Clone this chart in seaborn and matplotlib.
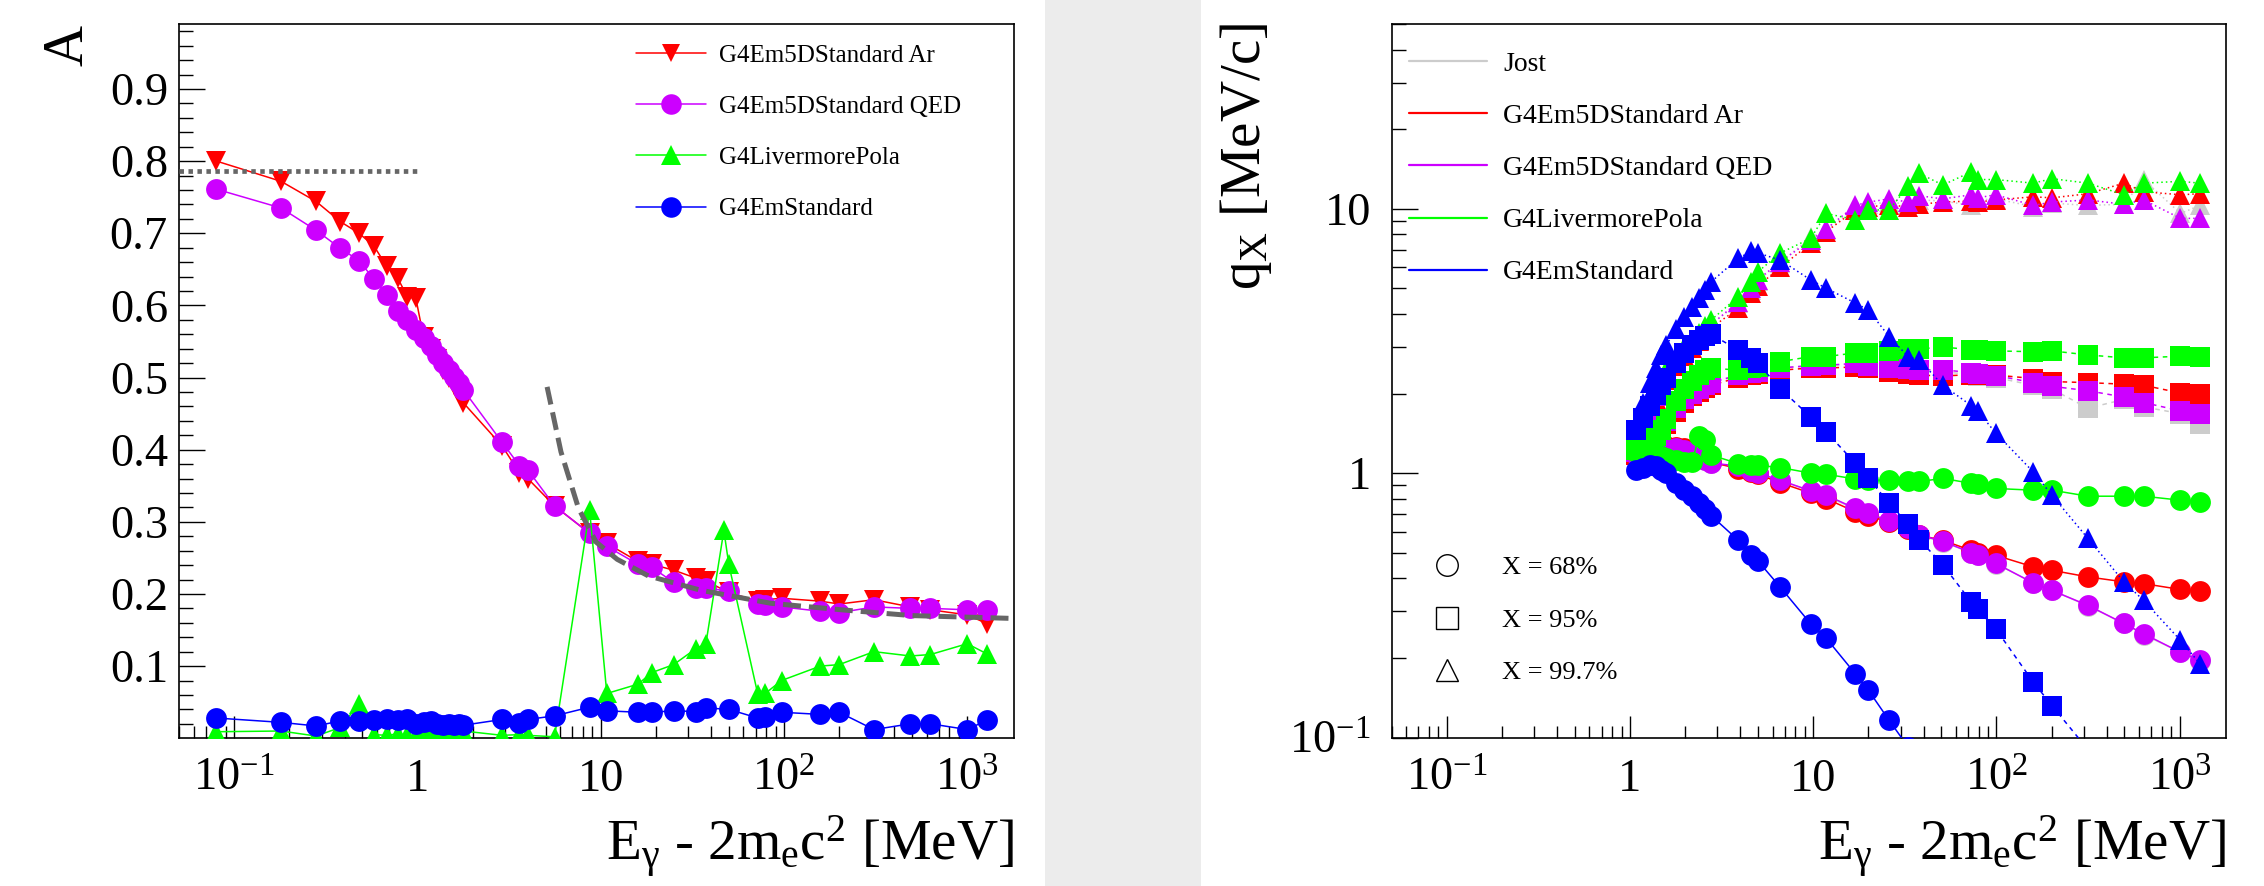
import numpy as np
import pandas as pd
import matplotlib
matplotlib.use("Agg")
import matplotlib.pyplot as plt
import seaborn as sns
from matplotlib.lines import Line2D
from matplotlib.patches import Rectangle
from matplotlib.ticker import FixedLocator, NullFormatter, LogLocator, MultipleLocator

nan = np.nan

# ---------------- data: left panel (asymmetry A) ----------------
E_left = [0.08, 0.18, 0.28, 0.38, 0.48, 0.58, 0.68, 0.78, 0.88, 0.98,
          1.08, 1.18, 1.28, 1.38, 1.48, 1.58, 1.68, 1.78,
          2.9, 3.6, 4.0, 5.6, 8.7, 10.8, 16, 19, 25, 33, 37.5, 47, 50,
          72, 79, 97, 158, 200, 310, 490, 630, 1000, 1280]
A_ar = [0.800, 0.772, 0.744, 0.716, 0.700, 0.682, 0.654, 0.638, 0.612, 0.610,
        0.556, 0.540, 0.525, 0.511, 0.500, 0.490, 0.478, 0.465,
        0.405, 0.368, 0.360, 0.322, 0.284, 0.270, 0.245, 0.241, 0.233, 0.222, 0.218, nan, 0.202,
        0.190, 0.192, 0.194, 0.190, 0.186, 0.192, 0.182, 0.178, 0.171, 0.159]
A_qed = [0.761, 0.735, 0.704, 0.679, 0.662, 0.636, 0.615, 0.592, 0.580, 0.566,
         0.555, 0.543, 0.531, 0.520, 0.511, 0.501, 0.492, 0.483,
         0.410, 0.378, 0.372, 0.322, 0.284, 0.266, 0.241, 0.237, 0.216, 0.208, 0.208, nan, 0.204,
         0.186, 0.184, 0.182, 0.176, 0.174, 0.182, 0.180, 0.180, 0.178, 0.178]
A_liv = [0.009, 0.010, 0.003, 0.015, 0.048, 0.005, 0.004, 0.006, 0.004, 0.003,
         0.004, 0.006, 0.004, 0.002, 0.008, 0.006, 0.020, 0.010,
         0.004, 0.005, 0.004, 0.002, 0.316, 0.062, 0.075, 0.091, 0.102, 0.124, 0.131, 0.288, 0.241,
         0.061, 0.062, 0.080, 0.100, 0.102, 0.120, 0.114, 0.116, 0.131, 0.117]
A_std = [0.028, 0.022, 0.017, 0.024, 0.024, 0.025, 0.026, 0.025, 0.027, 0.020,
         0.022, 0.024, 0.020, 0.018, 0.020, 0.018, 0.020, 0.018,
         0.026, 0.021, 0.026, 0.031, 0.043, 0.038, 0.036, 0.036, 0.038, 0.037, 0.042, nan, 0.040,
         0.028, 0.029, 0.036, 0.033, 0.036, 0.012, 0.020, 0.020, 0.012, 0.025]
# reference curves (left)
E_low_limit = [0.05, 1.0]
A_low_limit = [0.786, 0.786]
E_high_limit = [5.1, 6.07, 7.56, 9.43, 12.3, 18.2, 35.3, 85, 206, 496, 1800]
A_high_limit = [0.487, 0.397, 0.319, 0.272, 0.248, 0.225, 0.205, 0.187, 0.178, 0.170, 0.166]

# ---------------- data: right panel (q_X) ----------------
E_right = [1.08, 1.18, 1.28, 1.38, 1.48, 1.58, 1.78, 1.98, 2.18, 2.38, 2.58, 2.78,
           3.9, 4.6, 5.0, 6.6, 9.7, 11.8, 17, 20,
           26, 33, 38, 51, 73, 79, 99, 159, 201, 316, 496, 636, 1011, 1291]

jost_68 = [1.17, 1.20, 1.23, 1.24, 1.25, 1.25, 1.24, 1.22, 1.19, 1.15, 1.12, 1.09,
           1.06, 1.02, 1.00, 0.94, 0.855, 0.82, 0.73, 0.70,
           0.655, 0.615, 0.58, 0.55, 0.50, 0.49, 0.455, 0.385, 0.36, 0.315, 0.27, 0.245, 0.21, 0.195]
jost_95 = [1.20, 1.25, 1.30, 1.38, 1.48, 1.58, 1.76, 1.90, 2.00, 2.08, 2.15, 2.20,
           2.35, 2.40, 2.42, 2.50, 2.55, 2.56, 2.58, 2.52,
           2.48, 2.45, 2.42, 2.42, 2.36, 2.34, 2.30, 2.15, 2.08, 1.76, 1.90, 1.78, 1.68, 1.54]
jost_997 = [1.30, 1.52, 1.75, 1.95, 2.15, 2.32, 2.62, 2.85, 3.05, 3.25, 3.45, 3.65,
            4.40, 4.95, 5.35, 6.25, 7.80, 8.30, 10.1, 10.4,
            10.6, 10.4, 10.8, 10.7, 10.3, 10.8, 10.9, 10.2, 10.5, 10.3, 10.4, 12.9, 9.6, 10.3]

ar_68 = [1.18, 1.22, 1.25, 1.26, 1.27, 1.27, 1.26, 1.24, 1.21, 1.17, 1.13, 1.10,
         1.04, 1.01, 0.99, 0.92, 0.84, 0.80, 0.714, 0.687,
         0.655, 0.617, 0.582, 0.557, 0.51, 0.50, 0.489, 0.442, 0.429, 0.405, 0.388, 0.382, 0.363, 0.357]
ar_95 = [1.17, 1.22, 1.27, 1.34, 1.44, 1.54, 1.71, 1.85, 1.95, 2.03, 2.10, 2.15,
         2.30, 2.36, 2.38, 2.45, 2.50, 2.50, 2.52, 2.50,
         2.42, 2.38, 2.35, 2.33, 2.36, 2.36, 2.35, 2.28, 2.22, 2.20, 2.17, 2.15, 2.01, 2.00]
ar_997 = [1.28, 1.48, 1.70, 1.90, 2.08, 2.25, 2.55, 2.78, 2.98, 3.15, 3.35, 3.55,
          4.20, 4.80, 5.10, 6.00, 7.40, 8.20, 9.90, 10.2,
          10.3, 10.2, 10.4, 10.6, 10.7, 10.6, 10.8, 11.1, 11.0, 11.4, 12.5, 11.6, 11.3, 11.4]

qed_68 = [1.17, 1.20, 1.23, 1.24, 1.25, 1.25, 1.24, 1.22, 1.19, 1.15, 1.12, 1.09,
          1.066, 1.02, 1.00, 0.94, 0.857, 0.825, 0.735, 0.705,
          0.66, 0.62, 0.585, 0.552, 0.50, 0.49, 0.456, 0.384, 0.36, 0.316, 0.27, 0.247, 0.21, 0.196]
qed_95 = [1.20, 1.25, 1.30, 1.38, 1.48, 1.58, 1.76, 1.90, 2.00, 2.08, 2.15, 2.20,
          2.35, 2.40, 2.42, 2.50, 2.55, 2.56, 2.60, 2.55,
          2.50, 2.48, 2.46, 2.46, 2.40, 2.38, 2.34, 2.20, 2.13, 2.05, 1.94, 1.85, 1.72, 1.68]
qed_997 = [1.30, 1.52, 1.75, 1.95, 2.15, 2.32, 2.62, 2.85, 3.05, 3.25, 3.45, 3.65,
           4.45, 5.00, 5.40, 6.30, 7.60, 8.40, 10.3, 10.6,
           10.9, 10.6, 11.2, 10.9, 11.3, 11.0, 11.3, 10.3, 10.6, 10.8, 10.4, 10.8, 9.2, 9.2]

liv_68 = [1.20, 1.21, 1.20, 1.18, 1.16, 1.14, 1.12, 1.10, 1.10, 1.38, 1.34, 1.17,
          1.087, 1.075, 1.07, 1.05, 1.00, 0.99, 0.95, 0.94,
          0.94, 0.93, 0.93, 0.955, 0.915, 0.91, 0.875, 0.862, 0.862, 0.818, 0.818, 0.818, 0.79, 0.78]
liv_95 = [1.22, 1.28, 1.33, 1.38, 1.45, 1.60, 1.88, 2.08, 2.24, 2.36, 2.45, 2.50,
          2.45, 2.50, 2.52, 2.64, 2.76, 2.76, 2.85, 2.85,
          2.90, 2.95, 2.95, 3.00, 2.93, 2.92, 2.90, 2.88, 2.90, 2.80, 2.73, 2.73, 2.77, 2.75]
liv_997 = [1.35, 1.60, 1.85, 2.05, 2.25, 2.45, 2.75, 3.00, 3.20, 3.40, 3.60, 3.80,
           4.65, 5.30, 5.78, 6.80, 7.73, 9.60, 9.08, 9.90,
           9.90, 12.2, 13.6, 12.3, 13.8, 12.9, 12.9, 12.5, 13.0, 12.5, 11.3, 12.5, 12.7, 12.5]

std_68 = [1.03, 1.05, 1.07, 1.06, 1.03, 1.00, 0.92, 0.86, 0.82, 0.77, 0.73, 0.69,
          0.557, 0.49, 0.465, 0.371, 0.269, 0.237, 0.174, 0.151,
          0.116, 0.092, 0.080, nan, nan, nan, nan, nan, nan, nan, nan, nan, nan, nan]
std_95 = [1.45, 1.62, 1.80, 1.98, 2.15, 2.30, 2.60, 2.85, 3.05, 3.20, 3.30, 3.35,
          2.92, 2.72, 2.60, 2.09, 1.63, 1.43, 1.09, 0.955,
          0.77, 0.64, 0.56, 0.45, 0.325, 0.305, 0.258, 0.162, 0.132, 0.090, nan, nan, nan, nan]
std_997 = [1.50, 1.85, 2.20, 2.50, 2.80, 3.05, 3.50, 3.90, 4.25, 4.60, 4.95, 5.30,
           6.5, 6.9, 6.8, 6.4, 5.38, 5.0, 4.4, 4.14,
           3.28, 2.76, 2.68, 2.15, 1.80, 1.72, 1.42, 1.01, 0.825, 0.566, 0.388, 0.33, 0.233, 0.19]

model_names = ["Jost", "G4Em5DStandard Ar", "G4Em5DStandard QED", "G4LivermorePola", "G4EmStandard"]
model_colors = ["#cccccc", "#ff0000", "#cc00ff", "#00ff00", "#0000ff"]
quantile_labels = ["X = 68%", "X = 95%", "X = 99.7%"]
left_ticklabels_x = ["$10^{-1}$", "1", "10", "$10^{2}$", "$10^{3}$"]
left_ticklabels_y = ["0.1", "0.2", "0.3", "0.4", "0.5", "0.6", "0.7", "0.8", "0.9"]
right_ticklabels_y = ["$10^{-1}$", "1", "10"]

# ---------------- style ----------------
sns.set_theme(style="white")
plt.rcParams["font.family"] = ["Liberation Serif", "DejaVu Serif"]
plt.rcParams["mathtext.fontset"] = "custom"
plt.rcParams["mathtext.rm"] = "Liberation Serif"
plt.rcParams["mathtext.it"] = "Liberation Serif:italic"
plt.rcParams["mathtext.bf"] = "Liberation Serif:bold"
plt.rcParams["mathtext.default"] = "regular"
for k in ["text.color", "axes.labelcolor", "xtick.color", "ytick.color", "axes.edgecolor"]:
    plt.rcParams[k] = "black"

W, H = 2264, 886
fig = plt.figure(figsize=(W / 100, H / 100), dpi=100)
fig.patch.set_facecolor("white")
fig.add_artist(Rectangle((1045 / W, 0), (1201 - 1045) / W, 1, transform=fig.transFigure,
                         facecolor="#ececec", edgecolor="none", zorder=0))

ax_bottom, ax_top = 737.5, 24.0
axL = fig.add_axes([179 / W, 1 - ax_bottom / H, (1014 - 179) / W, (ax_bottom - ax_top) / H])
axR = fig.add_axes([1391.6 / W, 1 - ax_bottom / H, (2226.4 - 1391.6) / W, (ax_bottom - ax_top) / H])

MS_C, MS_S, MS_T = 15.0, 14.4, 14.0
LW = 1.1


def draw(ax, x, y, color, marker, ms, ls, z):
    d = pd.DataFrame({"x": x, "y": y}).dropna()
    sns.lineplot(data=d, x="x", y="y", ax=ax, color=color, marker=marker, markersize=ms,
                 markeredgewidth=0, markeredgecolor=color, linestyle=ls, linewidth=LW,
                 estimator=None, sort=False, legend=False, zorder=z)


for ax in (axL, axR):
    ax.set_xscale("log")
axR.set_yscale("log")

# left panel
draw(axL, E_left, A_ar, "#ff0000", "v", MS_T, "-", 3)
draw(axL, E_left, A_qed, "#cc00ff", "o", MS_C, "-", 4)
draw(axL, E_left, A_liv, "#00ff00", "^", MS_T, "-", 5)
draw(axL, E_left, A_std, "#0000ff", "o", MS_C, "-", 6)
sns.lineplot(x=E_low_limit, y=A_low_limit, ax=axL, color="#666666", linewidth=3.4,
             linestyle=(0, (0.95, 0.95)), estimator=None, sort=False, zorder=7)
sns.lineplot(x=E_high_limit, y=A_high_limit, ax=axL, color="#666666", linewidth=3.6,
             linestyle=(0, (3.6, 1.6)), estimator=None, sort=False, zorder=7)

# right panel
series = [(jost_68, jost_95, jost_997), (ar_68, ar_95, ar_997), (qed_68, qed_95, qed_997),
          (liv_68, liv_95, liv_997), (std_68, std_95, std_997)]
z = 3
for (s68, s95, s997), col in zip(series, model_colors):
    draw(axR, E_right, s68, col, "o", MS_C, "-", z)
    draw(axR, E_right, s95, col, "s", MS_S, (0, (3, 3)), z + 0.1)
    draw(axR, E_right, s997, col, "^", MS_T, (0, (1, 2)), z + 0.2)
    z += 1

# axes cosmetics
for ax in (axL, axR):
    ax.set_xlim(0.05, 1800)
    ax.set_xlabel("")
    ax.set_ylabel("")
    ax.set_facecolor("white")
    for sp in ax.spines.values():
        sp.set_color("black")
        sp.set_linewidth(1.2)
    ax.xaxis.set_major_locator(FixedLocator([0.1, 1, 10, 100, 1000]))
    ax.set_xticklabels(left_ticklabels_x)
    ax.xaxis.set_minor_locator(LogLocator(base=10, subs=np.arange(2, 10), numticks=30))
    ax.xaxis.set_minor_formatter(NullFormatter())
    ax.tick_params(axis="x", which="major", direction="in", length=15.6, width=1.0,
                   labelsize=33.5, pad=38.5, bottom=True, top=False)
    ax.tick_params(axis="x", which="minor", direction="in", length=8.4, width=1.0,
                   bottom=True, top=False)
    for lab in ax.get_xticklabels():
        lab.set_verticalalignment("baseline")
    ax.text(1.0, (ax_bottom - 861.6) / (ax_bottom - ax_top),
            r"E$_{\gamma}$ - 2m$_{e}$c$^{2}$ [MeV]", transform=ax.transAxes,
            ha="right", va="baseline", fontsize=41)

axL.set_ylim(0.001, 0.99)
axL.yaxis.set_major_locator(FixedLocator([0.1, 0.2, 0.3, 0.4, 0.5, 0.6, 0.7, 0.8, 0.9]))
axL.set_yticklabels(left_ticklabels_y)
axL.yaxis.set_minor_locator(MultipleLocator(0.02))
axL.tick_params(axis="y", which="major", direction="in", length=18.7, width=1.0,
                labelsize=33.5, pad=8, left=True, right=False)
axL.tick_params(axis="y", which="minor", direction="in", length=10.3, width=1.0,
                left=True, right=False)

axR.set_ylim(0.1, 50)
axR.yaxis.set_major_locator(FixedLocator([0.1, 1, 10]))
axR.set_yticklabels(right_ticklabels_y)
axR.yaxis.set_minor_locator(LogLocator(base=10, subs=np.arange(2, 10), numticks=30))
axR.yaxis.set_minor_formatter(NullFormatter())
axR.tick_params(axis="y", which="major", direction="in", length=18.7, width=1.0,
                labelsize=33.5, pad=15, left=True, right=False)
axR.tick_params(axis="y", which="minor", direction="in", length=10.3, width=1.0,
                left=True, right=False)

# axis titles
hL = ax_bottom - ax_top
axL.text((82.8 - 179) / 835, (ax_bottom - 25.4) / hL, "A", transform=axL.transAxes,
         rotation=90, rotation_mode="anchor", ha="right", va="baseline", fontsize=41)
axR.text((1260 - 1391.6) / 834.8, (ax_bottom - 22.6) / hL, "q$_{X}$ [MeV/c]",
         transform=axR.transAxes, rotation=90, rotation_mode="anchor",
         ha="right", va="baseline", fontsize=41)

# legends
hl = [Line2D([], [], color="#ff0000", marker="v", ms=13.6, mew=0, lw=LW),
      Line2D([], [], color="#cc00ff", marker="o", ms=14.8, mew=0, lw=LW),
      Line2D([], [], color="#00ff00", marker="^", ms=14.2, mew=0, lw=LW),
      Line2D([], [], color="#0000ff", marker="o", ms=14.8, mew=0, lw=LW)]
axL.legend(hl, model_names[1:], loc="upper left",
           bbox_to_anchor=((636 - 179) / 835, (ax_bottom - 44.0) / hL),
           frameon=False, fontsize=18, handlelength=2.8, handletextpad=0.53,
           labelspacing=1.15, borderpad=0, borderaxespad=0)

hr = [Line2D([], [], color=c, lw=1.6) for c in model_colors]
leg1 = axR.legend(hr, model_names, loc="upper left",
                  bbox_to_anchor=((1409 - 1391.6) / 834.8, (ax_bottom - 51.5) / hL),
                  frameon=False, fontsize=20, handlelength=2.8, handletextpad=0.58,
                  labelspacing=0.96, borderpad=0, borderaxespad=0)
axR.add_artist(leg1)
hm = [Line2D([], [], color="black", marker=m, ms=15.5, mfc="none", mec="black", mew=1.0, ls="none")
      for m in ["o", "s", "^"]]
axR.legend(hm, quantile_labels, loc="upper left",
           bbox_to_anchor=((1409 - 1391.6) / 834.8, (ax_bottom - 556.0) / hL),
           frameon=False, fontsize=19, handlelength=2.9, handletextpad=0.61,
           labelspacing=1.095, borderpad=0, borderaxespad=0)

fig.savefig("out.png", dpi=100, facecolor="white")
